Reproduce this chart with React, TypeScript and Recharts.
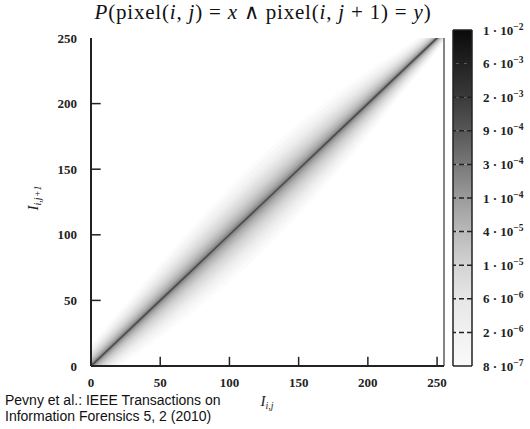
import React from 'react';
import { ComposedChart, Area, Line, XAxis, YAxis, ReferenceLine, BarChart, Bar } from 'recharts';

// positions along the diagonal (pixel value) and the visible spread of the joint histogram
const diagX = [0, 25, 50, 75, 100, 125, 150, 175, 200, 225, 250, 255];
const haloHalfWidth = [16, 22, 28, 33, 36, 37, 35, 31, 25, 17, 10, 8];
const coreHalfWidth = [1.2, 1.2, 1.2, 1.2, 1.2, 1.2, 1.2, 1.2, 1.2, 1.1, 1.0, 1.0];
const haloLevels = [1, 0.88, 0.77, 0.67, 0.58, 0.5, 0.42, 0.35, 0.29, 0.23, 0.18, 0.13, 0.09, 0.06, 0.03, 0];
const haloOpacity = [0.016, 0.018, 0.02, 0.023, 0.026, 0.029, 0.032, 0.036, 0.04, 0.043, 0.046, 0.05, 0.055, 0.06, 0.07, 0.09];

const xTicks = [0, 50, 100, 150, 200, 250];
const yTicks = [0, 50, 100, 150, 200, 250];
const xTickMarks = [50, 100, 150, 200, 250];
const yTickMarks = [50, 100, 150, 200];

// colorbar, bottom to top
const cbMantissa = ['8', '2', '6', '1', '4', '1', '3', '9', '2', '6', '1'];
const cbExponent = ['−7', '−6', '−6', '−5', '−5', '−4', '−4', '−4', '−3', '−3', '−2'];
const cbColors = ['#fafafa', '#f1f1f1', '#e6e6e6', '#d3d3d3', '#b9b9b9', '#9b9b9b', '#787878', '#575757', '#3a3a3a', '#222222', '#0a0a0a'];

const heatRows = diagX.map((x, i) => {
  const row: any = { x, diag: x };
  haloLevels.forEach((f, k) => {
    const w = coreHalfWidth[i] + f * (haloHalfWidth[i] - coreHalfWidth[i]);
    row['b' + k] = [x - w, x + w];
  });
  return row;
});

const cbRow: any = { name: 'cb' };
for (let k = 0; k < cbColors.length - 1; k++) cbRow['s' + k] = 1;
const cbRows = [cbRow];

const serif = '"Liberation Serif", "Times New Roman", serif';

const XTick = (p: any) => (
  <text x={p.x} y={p.y + 21} textAnchor="middle" fontFamily={serif} fontSize={13} fontWeight="bold" fill="#222">
    {p.payload.value}
  </text>
);
const YTick = (p: any) => (
  <text x={p.x - 14} y={p.y + 4.5} textAnchor="end" fontFamily={serif} fontSize={13} fontWeight="bold" fill="#222">
    {p.payload.value}
  </text>
);
const CbTick = (p: any) => {
  const i = p.payload.value;
  return (
    <text x={p.x + 11} y={p.y + 4.5} textAnchor="start" fontFamily={serif} fontSize={13} fontWeight="bold" fill="#222">
      {cbMantissa[i]} · 10
      <tspan dy={-5} fontSize={9.5}>{cbExponent[i]}</tspan>
    </text>
  );
};

const I = ({ children }: any) => <tspan fontStyle="italic">{children}</tspan>;

export default function App() {
  return (
    <div style={{ position: 'absolute', left: 0, top: 0, width: 530, height: 429, background: '#fff' }}>
      <svg width={0} height={0} style={{ position: 'absolute' }}>
        <defs>
          {cbColors.slice(0, -1).map((c, k) => (
            <linearGradient key={k} id={'cbg' + k} x1="0" y1="0" x2="0" y2="1">
              <stop offset="0" stopColor={cbColors[k + 1]} />
              <stop offset="1" stopColor={c} />
            </linearGradient>
          ))}
        </defs>
      </svg>

      <div style={{ position: 'absolute', left: 0, top: 0 }}>
        <ComposedChart width={530} height={429} data={heatRows} margin={{ top: 38, right: 86, bottom: 33, left: 51 }}>
          <XAxis
            type="number"
            dataKey="x"
            domain={[0, 255]}
            ticks={xTicks}
            allowDataOverflow
            height={30}
            tickLine={false}
            tickSize={0}
            tickMargin={0}
            tick={XTick}
            axisLine={{ stroke: '#222', strokeWidth: 2 }}
          />
          <YAxis
            type="number"
            domain={[0, 250]}
            ticks={yTicks}
            allowDataOverflow
            width={40}
            tickLine={false}
            tickSize={0}
            tickMargin={0}
            tick={YTick}
            axisLine={{ stroke: '#222', strokeWidth: 2 }}
          />
          {haloLevels.map((_, k) => (
            <Area
              key={k}
              type="monotone"
              dataKey={'b' + k}
              stroke="none"
              fill="#000"
              fillOpacity={haloOpacity[k]}
              isAnimationActive={false}
              dot={false}
              activeDot={false}
            />
          ))}
          <Line type="linear" dataKey="diag" stroke="#222" strokeOpacity={0.55} strokeWidth={1.5} dot={false} activeDot={false} isAnimationActive={false} />
          <ReferenceLine x={255} stroke="#333" strokeWidth={1.2} />
          {xTickMarks.map((t) => (
            <ReferenceLine key={'xt' + t} segment={[{ x: t, y: 0 }, { x: t, y: 7 }]} stroke="#222" strokeWidth={1.5} />
          ))}
          {yTickMarks.map((t) => (
            <ReferenceLine key={'yt' + t} segment={[{ x: 0, y: t }, { x: 7, y: t }]} stroke="#222" strokeWidth={1.5} />
          ))}
        </ComposedChart>
      </div>

      <div style={{ position: 'absolute', left: 0, top: 0 }}>
        <BarChart width={530} height={429} data={cbRows} margin={{ top: 30, right: 8, bottom: 63, left: 453 }} barCategoryGap={0}>
          <XAxis dataKey="name" hide />
          <YAxis
            yAxisId="r"
            orientation="right"
            type="number"
            domain={[0, 10]}
            ticks={[0, 1, 2, 3, 4, 5, 6, 7, 8, 9, 10]}
            width={50}
            tickLine={false}
            tickSize={0}
            tickMargin={0}
            tick={CbTick}
            axisLine={{ stroke: '#222', strokeWidth: 1.5 }}
          />
          {cbColors.slice(0, -1).map((_, k) => (
            <Bar key={k} yAxisId="r" dataKey={'s' + k} stackId="a" fill={'url(#cbg' + k + ')'} isAnimationActive={false} />
          ))}
          {[1, 2, 3, 4, 5, 6, 7, 8, 9].map((k) => (
            <ReferenceLine key={'cb' + k} yAxisId="r" y={k} stroke="#222" strokeWidth={1.5} strokeDasharray="5 3" />
          ))}
          <ReferenceLine yAxisId="r" y={10} stroke="#222" strokeWidth={1.5} />
          <ReferenceLine yAxisId="r" y={0} stroke="#222" strokeWidth={1.5} />
        </BarChart>
      </div>

      <svg width={530} height={429} style={{ position: 'absolute', left: 0, top: 0, pointerEvents: 'none' }}>
        <line x1={453} y1={30} x2={453} y2={366} stroke="#222" strokeWidth={1.5} />
        <text x={263} y={19} textAnchor="middle" fontFamily={serif} fontSize={21} letterSpacing={0.8} fill="#111">
          <I>P</I>(pixel(<I>i</I>, <I>j</I>) = <I>x</I> ∧ pixel(<I>i</I>, <I>j</I> + 1) = <I>y</I>)
        </text>
        <text x={267} y={406} textAnchor="middle" fontFamily={serif} fontSize={15} fill="#222">
          <I>I</I>
          <tspan dy={3} fontSize={10} fontStyle="italic">i,j</tspan>
        </text>
        <text transform="translate(38,198) rotate(-90)" textAnchor="middle" fontFamily={serif} fontSize={15} fill="#222">
          <I>I</I>
          <tspan dy={3} fontSize={10} fontStyle="italic">i,j+1</tspan>
        </text>
        <text x={5} y={405} fontFamily='"Liberation Sans", Arial, sans-serif' fontSize={14} fill="#111">
          Pevny et al.: IEEE Transactions on
        </text>
        <text x={5} y={421} fontFamily='"Liberation Sans", Arial, sans-serif' fontSize={14} fill="#111">
          Information Forensics 5, 2 (2010)
        </text>
      </svg>
    </div>
  );
}
